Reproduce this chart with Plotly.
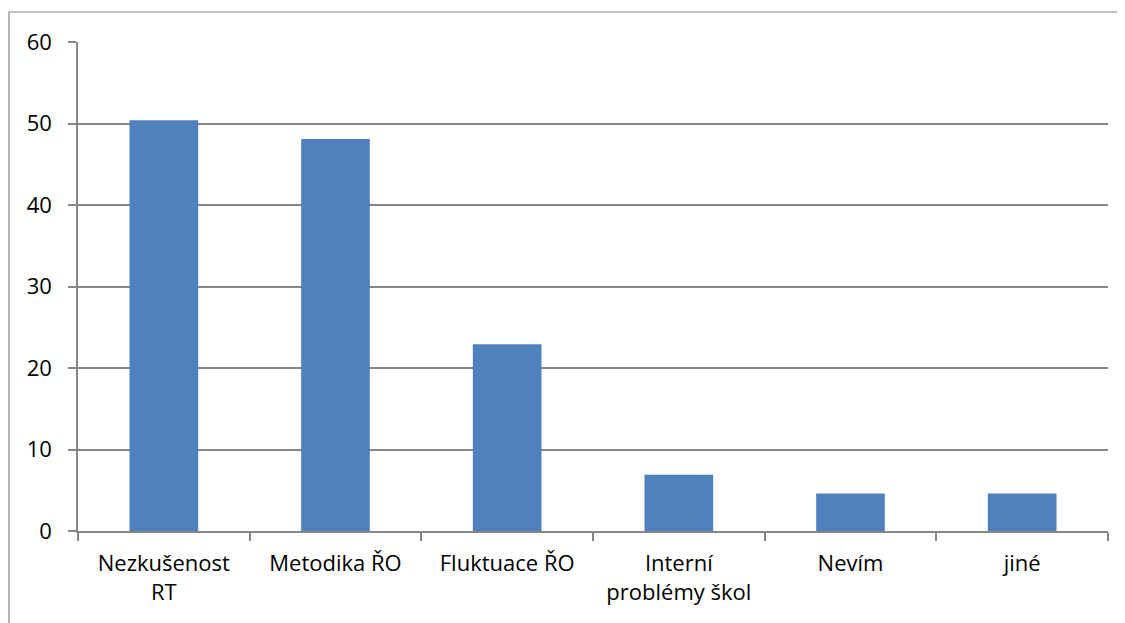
import plotly.graph_objects as go

categories = ["Nezkušenost<br>RT", "Metodika ŘO", "Fluktuace ŘO", "Interní<br>problémy škol", "Nevím", "jiné"]
values = [50.4, 48.1, 22.9, 6.9, 4.6, 4.6]
y_ticks = [0, 10, 20, 30, 40, 50, 60]

OFF = 8  # page body margin
W, H = 1125 - OFF, 623 - OFF
L, R, T, B = 78 - OFF, 17, 42 - OFF, 92
pw = W - L - R
ph = H - T - B

fig = go.Figure(go.Bar(
    x=categories, y=values,
    marker=dict(color="#4F81BD", line=dict(color="#4F81BD", width=0)),
    width=0.4,
))

gray = "#868686"
fig.update_layout(
    width=W, height=H,
    margin=dict(l=L, r=R, t=T, b=B),
    paper_bgcolor="white", plot_bgcolor="white",
    font=dict(family="Open Sans, Liberation Sans, sans-serif", size=22, color="black"),
    showlegend=False,
    bargap=0.6,
    xaxis=dict(
        type="category",
        tickson="boundaries",
        ticks="outside", ticklen=8, tickcolor=gray, tickwidth=1.5,
        showline=True, linecolor=gray, linewidth=1.5,
        showgrid=False,
        ticklabelstandoff=12,
        tickfont=dict(size=22, color="black"),
    ),
    yaxis=dict(
        range=[0, 60],
        tickvals=y_ticks,
        ticks="outside", ticklen=8, tickcolor=gray, tickwidth=1.5,
        showline=True, linecolor=gray, linewidth=1.5,
        showgrid=True, gridcolor=gray, gridwidth=1.5,
        zeroline=False,
        ticklabelstandoff=12,
        tickfont=dict(size=22, color="black"),
    ),
    shapes=[dict(
        type="rect", xref="paper", yref="paper",
        x0=(9 - 78) / pw, x1=1.3,
        y0=-0.5, y1=(531 - 12) / ph,
        line=dict(color=gray, width=1.2),
        fillcolor="rgba(0,0,0,0)",
        layer="below",
    )],
)

fig.write_html("out.html")
